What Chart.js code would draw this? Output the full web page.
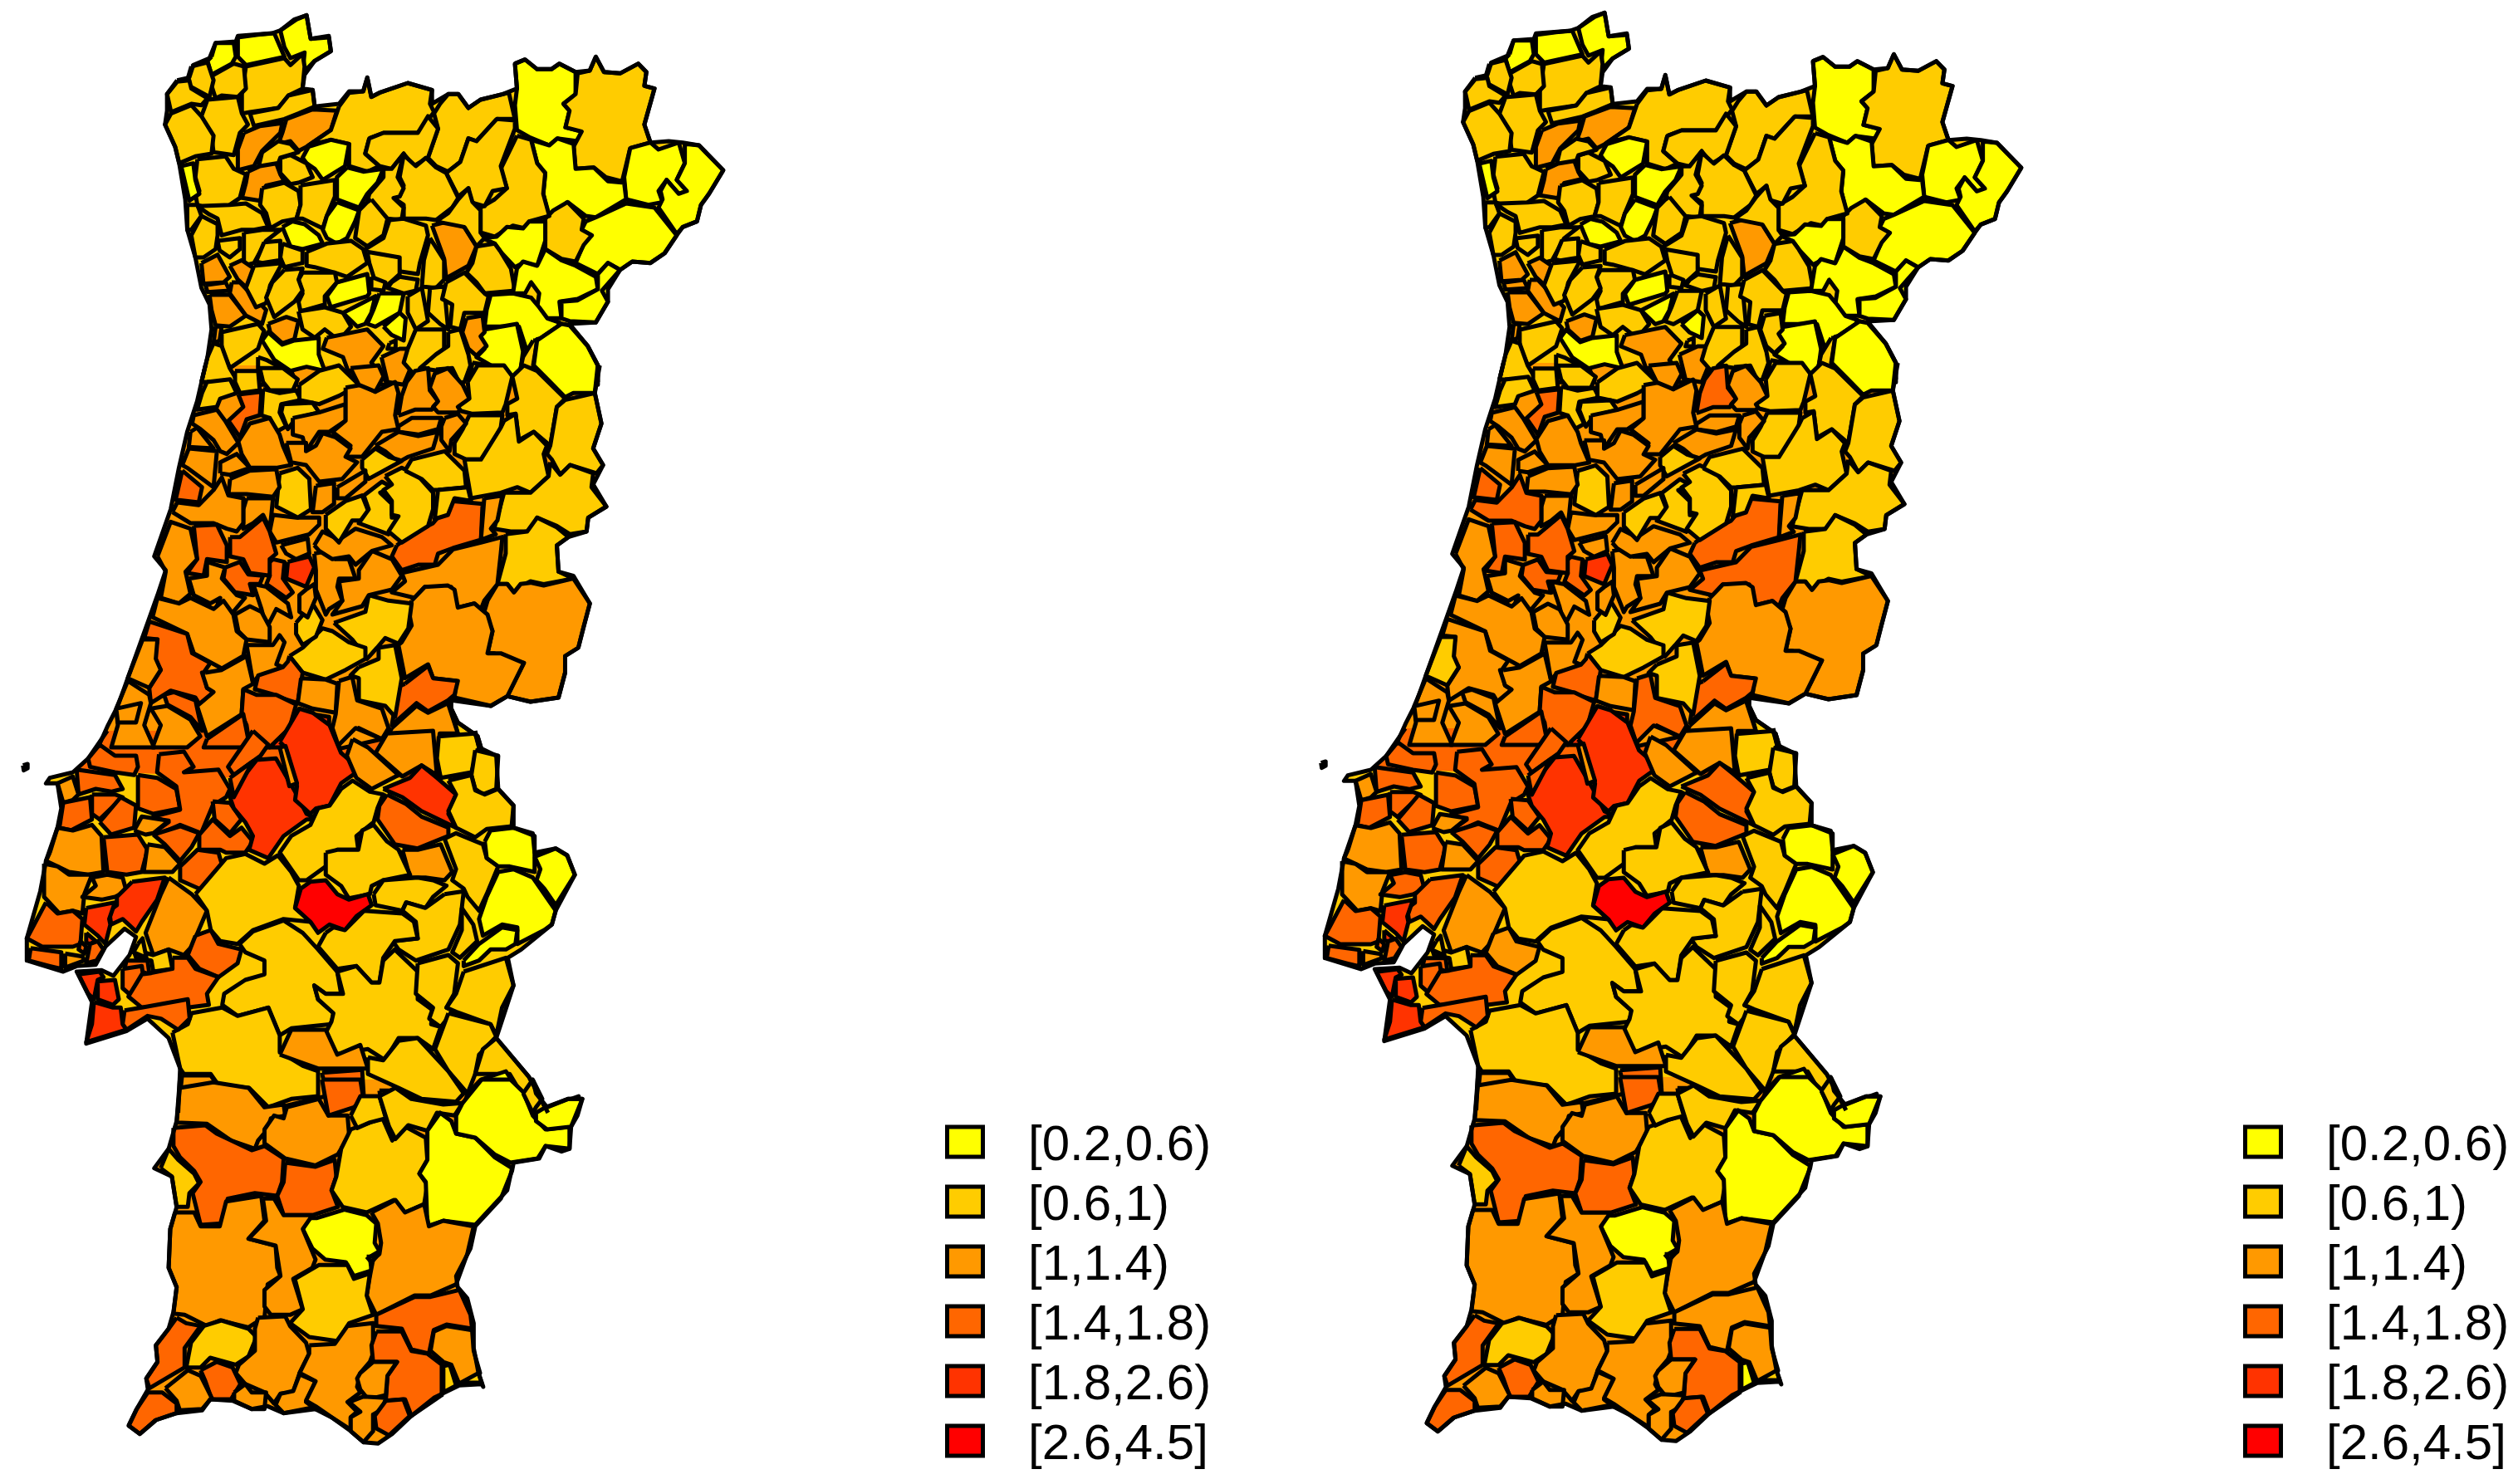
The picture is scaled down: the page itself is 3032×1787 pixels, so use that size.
<!DOCTYPE html>
<html>
<head>
<meta charset="utf-8">
<script src="https://cdn.jsdelivr.net/npm/chart.js@4"></script>
<style>
  html, body { margin: 0; background: #fff; }
  canvas { position: absolute; top: 0; }
  #map-left { left: 0; }
  #map-right { left: 1563px; }
</style>
</head>
<body>
<canvas id="map-left" width="1469" height="1787"></canvas>
<canvas id="map-right" width="1469" height="1787"></canvas>
<script>
const classLabels = ['[0.2,0.6)', '[0.6,1)', '[1,1.4)', '[1.4,1.8)', '[1.8,2.6)', '[2.6,4.5]'];
const classColors = ['#FFFF00', '#FFCC00', '#FF9900', '#FF6600', '#FF3300', '#FF0000'];

// outlines were traced sheet by sheet, each sheet has its own scale to map units
const northSheet = { x0: 150, y0: 0, sx: 2.053, sy: 3 };
const centreSheet = { x0: 130, y0: 440, sx: 2.516, sy: 3 };
const lowerSheet = { x0: 0, y0: 880, sx: 2.167, sy: 3 };
const southSheet = { x0: 130, y0: 1300, sx: 2.6, sy: 3 };

const northBase = [130,290,105,340,105,400,100,450,125,530,135,590,150,720,155,830,175,930,190,1040,210,1100,215,1190,205,1290,190,1380,1170,1380,1170,1320,1145,1250,1100,1170,1165,1165,1195,1090,1180,1050,1225,975,1255,945,1300,950,1335,915,1365,850,1380,820,1415,800,1425,740,1445,700,1480,615,1450,570,1420,525,1380,515,1345,510,1300,515,1285,450,1310,320,1285,310,1290,260,1270,230,1225,265,1185,260,1165,205,1150,255,1115,260,1075,230,1055,250,1020,250,990,215,965,230,970,320,935,340,880,360,850,390,825,340,800,340,760,375,760,325,700,300,630,335,610,350,600,280,590,330,555,330,530,375,470,385,465,325,440,320,445,270,470,220,510,185,505,130,460,140,450,55,420,70,385,110,365,120,280,130,275,150,225,155,210,210,170,235,160,280];
const centreBase = [295,0,270,130,240,240,215,370,190,520,140,690,175,740,150,830,120,930,60,1130,30,1230,0,1300,-30,1380,1130,1380,1120,1340,1060,1290,1040,1240,1040,1210,1160,1230,1210,1195,1280,1215,1365,1200,1385,1110,1385,1050,1425,1020,1440,950,1460,860,1410,760,1365,745,1360,650,1395,620,1450,600,1455,550,1510,510,1470,430,1500,360,1470,300,1495,210,1475,100,1490,0];
const lowerBase = [280,0,230,100,190,150,130,170,120,190,150,190,160,280,150,350,120,470,105,580,70,750,70,830,165,870,200,850,250,845,275,780,325,715,355,745,338,810,296,885,265,865,200,870,240,980,225,1130,330,1085,385,1040,440,1110,470,1220,465,1380,1430,1380,1380,1250,1295,1110,1340,920,1325,820,1360,790,1440,700,1450,650,1500,520,1480,450,1450,425,1395,440,1390,370,1340,350,1340,270,1300,210,1295,90,1250,60,1240,0];
const lowerPatch = [232,100,280,0,1140,0,1140,170,600,170,200,140];
const southBase = [225,0,215,150,190,250,145,320,200,350,215,460,195,540,190,680,215,750,205,840,190,900,150,960,155,1020,120,1080,125,1120,90,1190,65,1250,100,1280,150,1230,215,1205,295,1195,320,1155,390,1160,450,1190,500,1180,550,1205,640,1185,700,1220,760,1270,800,1310,845,1315,890,1280,950,1215,1020,1150,1100,1105,1170,1100,1175,1110,1160,1060,1145,970,1145,880,1125,790,1095,750,1090,710,1135,610,1150,530,1230,430,1265,330,1270,300,1350,285,1370,240,1420,260,1445,250,1450,170,1470,130,1485,70,1440,70,1375,100,1340,50,1330,0];

const northRegions = [
  [215,205,225,155,270,155,275,205,265,230,215,270,205,220],
  [280,135,330,125,370,120,395,205,300,235,280,205],
  [385,110,425,70,450,55,460,140,505,135,510,185,470,220,440,265,445,190,410,210,395,170],
  [300,240,395,210,410,235,440,195,445,240,440,320,405,345,380,390,310,405,290,410,290,340],
  [215,275,270,230,295,240,300,320,280,350,240,345,225,355,215,310],
  [165,240,205,225,220,290,210,350,160,310,155,290],
  [130,295,160,290,165,320,205,355,190,380,165,375,115,405,105,340],
  [205,360,280,350,290,410,305,450,285,480,270,560,220,550,215,495,190,420],
  [115,410,165,380,190,420,220,490,215,555,175,565,135,590,125,530,100,450],
  [310,410,380,390,405,345,465,325,470,385,430,410,395,430,320,455],
  [295,480,335,455,390,445,385,480,340,545,320,600,280,615,280,540],
  [400,430,465,395,525,400,510,470,450,530,430,545,410,510,380,520,390,480],
  [530,385,555,335,590,330,600,280,610,350,630,335,700,300,760,325,755,375,765,405,725,480,640,480,605,500,595,555,630,600,600,620,555,600,555,520,510,505,455,525,510,470],
  [765,410,780,375,800,340,825,340,850,390,880,360,950,335,965,430,920,430,870,510,850,500,830,585,800,620,770,600,750,570,775,465],
  [605,500,640,480,725,480,750,420,775,465,750,570,715,600,690,555,660,610,630,600,595,555],
  [965,230,990,215,1020,250,1055,250,1075,230,1115,260,1115,340,1085,375,1100,400,1090,460,1130,475,1120,510,1070,500,1050,525,1000,495,970,470,965,380,970,320],
  [1120,265,1150,255,1165,205,1185,260,1225,265,1270,230,1290,260,1285,310,1310,320,1285,450,1300,515,1250,535,1230,655,1190,640,1160,605,1115,610,1110,530,1130,475,1090,460,1100,400,1085,375,1115,340],
  [1250,535,1300,515,1320,540,1370,515,1385,590,1365,650,1390,690,1370,700,1340,650,1320,690,1330,730,1295,740,1240,720,1235,640],
  [1385,520,1420,525,1450,570,1480,615,1445,700,1425,740,1415,800,1380,820,1365,845,1320,750,1330,720,1325,690,1340,650,1370,700,1390,690,1365,650,1385,590],
  [1005,505,1050,525,1070,500,1110,520,1115,610,1160,605,1195,655,1235,660,1240,720,1165,785,1140,780,1095,730,1050,790,1035,700,1040,625,1020,590],
  [1140,800,1165,785,1240,735,1310,750,1365,850,1335,915,1300,950,1255,945,1225,975,1195,950,1170,990,1115,950,1135,880,1155,850,1130,830],
  [1095,730,1135,790,1130,830,1155,850,1135,885,1115,945,1080,935,1040,900,1040,790,1060,760],
  [970,490,1005,505,1020,590,1040,625,1035,700,1050,780,1000,800,990,825,960,815,915,855,880,840,880,750,915,720,945,680,930,610],
  [920,430,965,435,965,465,930,600,945,680,910,690,890,745,855,730,850,680,825,710,795,625,830,585,850,500,870,510],
  [680,710,690,670,680,640,690,560,720,600,745,570,770,605,795,625,825,715,810,750,770,795,745,790,690,790,690,740,665,715],
  [640,610,660,610,690,555,675,640,690,680,680,710,665,715,690,750,685,795,650,790,600,730,605,700,640,640],
  [550,605,590,620,640,610,625,660,600,700,580,750,525,720,525,640],
  [455,530,510,505,555,520,545,600,490,650,470,610,450,590,440,570],
  [385,570,410,560,450,590,465,640,430,660,410,665,385,625],
  [340,550,380,510,410,520,430,550,385,570,380,590,330,610],
  [305,620,335,600,375,590,385,630,395,655,350,670,335,725,290,715,300,660],
  [180,575,250,565,270,610,300,630,285,715,260,740,240,770,180,740,175,700,185,690,175,640],
  [140,600,170,590,175,650,185,700,160,725],
  [340,680,395,660,430,690,435,740,425,790,390,800,360,825,350,770,335,740],
  [435,670,520,650,520,710,500,780,490,825,440,790,425,790,435,740],
  [525,730,580,760,570,800,550,860,525,880,500,860,490,830,500,780],
  [610,720,650,790,640,850,600,890,570,860,580,760,600,730],
  [655,795,690,790,745,815,750,850,730,950,725,990,680,980,675,930,605,940,595,900,640,860],
  [760,815,800,800,840,820,870,890,850,960,795,1005,790,935],
  [755,860,790,940,790,1010,770,1040,735,1035,740,940],
  [770,800,800,770,825,720,850,680,860,730,880,760,880,840,890,860,870,890,840,820],
  [885,860,920,855,945,820,985,825,1000,800,1040,800,1040,870,1020,960,985,950,965,965,930,910,915,880],
  [870,890,915,880,930,910,955,970,965,1050,890,1060,870,1020,845,985,860,950],
  [1040,900,1080,940,1115,960,1165,1000,1170,1045,1120,1080,1075,1090,1080,1150,1045,1150,1020,1110,1025,1060,1005,1020,990,1060,960,1060,970,970,985,945,1020,960],
  [1170,990,1195,950,1225,975,1195,1045,1195,1090,1165,1165,1100,1160,1080,1150,1080,1090,1120,1085,1170,1045],
  [905,1065,960,1060,1005,1075,1025,1110,1045,1150,1075,1165,1065,1210,1020,1225,995,1270,975,1180,890,1180,895,1120],
  [890,1190,970,1170,985,1270,975,1380,900,1315,870,1290,890,1260,880,1210],
  [1020,1230,1080,1170,1100,1175,1145,1250,1170,1320,1170,1390,1020,1390,1010,1320],
  [1010,1230,1020,1230,1010,1320,1030,1390,970,1390,985,1290],
  [155,740,180,740,190,780,165,830,155,830],
  [190,780,230,810,230,850,225,900,195,930,175,930,165,850],
  [180,745,260,740,300,735,340,770,355,820,320,830,290,830,240,850,230,790,210,775],
  [230,870,285,860,285,900,260,930,235,905],
  [295,840,340,830,385,830,350,870,320,950,295,960],
  [345,875,385,870,385,940,340,950,325,945],
  [390,820,415,800,445,810,480,850,490,880,440,900,410,890],
  [390,880,440,905,440,950,395,965,385,930],
  [450,910,500,880,560,870,590,900,600,950,550,1000,520,985,470,965,450,960],
  [600,910,680,930,680,990,650,1030,620,1020,605,950],
  [440,985,520,985,525,1020,495,1070,495,1100,435,1125,430,1090,440,1060,430,1010],
  [525,1020,600,990,605,1060,600,1070,510,1110,500,1070],
  [190,950,230,920,260,1000,245,1020,195,1025],
  [260,960,290,940,325,975,310,1050,280,1010],
  [200,1030,250,1020,260,1050,205,1055],
  [210,1065,260,1065,300,1140,260,1180,225,1175,215,1120],
  [265,1020,285,1020,350,1120,340,1170,300,1140,260,1060],
  [320,960,390,950,360,1030,350,1095,325,1110,300,1040],
  [395,975,440,970,430,1010,440,1050,420,1090,370,1145,350,1075,365,1020],
  [430,1125,495,1110,540,1130,560,1180,530,1230,495,1190,470,1220,440,1190],
  [355,1170,400,1145,430,1160,420,1225,390,1240,360,1200],
  [340,1230,355,1200,390,1245,420,1230,480,1220,480,1280,495,1340,450,1325,410,1340,370,1300],
  [240,1200,330,1170,345,1195,330,1260,290,1300,260,1330,240,1260],
  [225,1180,240,1180,235,1230,220,1240],
  [190,1380,205,1290,220,1240,240,1250,260,1330,280,1380],
  [330,1290,350,1300,415,1350,425,1390,330,1390],
  [500,1220,600,1190,640,1250,610,1310,640,1360,650,1390,590,1390,560,1370,540,1290,490,1260],
  [655,1240,670,1230,670,1260,650,1260],
  [635,1290,680,1260,715,1260,710,1320,690,1390,650,1380],
  [540,1130,620,1070,610,1130,595,1170,575,1180],
  [630,1060,690,1060,680,1130,620,1180,600,1170,615,1120],
  [640,1180,680,1130,695,1150,690,1230,660,1210],
  [700,1070,735,1040,750,1160,720,1190,700,1130],
  [755,1040,790,1035,800,1190,780,1170,750,1130],
  [795,1020,840,985,890,1060,900,1070,890,1130,840,1130,830,1190,805,1180,810,1100,785,1080],
  [845,1150,885,1140,890,1200,880,1215,895,1250,870,1285,850,1260,835,1200],
  [720,1190,790,1190,790,1270,745,1320,720,1360,690,1310,700,1260],
  [800,1200,830,1190,850,1280,855,1320,840,1380,810,1390,780,1340,730,1330,770,1280,800,1250],
  [710,1390,745,1330,755,1390],
  [770,1335,810,1330,830,1390,765,1390],
  [860,1310,900,1320,970,1380,850,1390],
  [610,1000,645,1020,640,1050,610,1045],
  [680,1000,725,1010,720,1050,690,1060,650,1040,660,1020]
];
const northLeft = [0,0,0,1,1,1,1,1,1,1, 2,2,1,1,1,0,1,0,0,0, 0,1,1,1,1,1,0,0,1,1, 2,1,0,1,1,0,1,1,2,1, 1,0,1,0,0,0,0,0,1,1, 1,1,1,1,1,0,1,1,1,1, 0,2,2,2,2,2,1,1,1,2, 0,1,2,1,1,2,1,2,0,0, 0,1,1,1,2,1,1,2,2,1, 1,1];
const northRight = [0,0,0,1,1,1,1,1,1,1, 2,2,1,1,1,0,1,0,0,0, 0,1,1,1,1,1,0,0,1,1, 2,1,0,1,1,0,1,1,2,1, 1,0,1,0,0,0,0,0,1,1, 1,1,1,1,1,0,1,1,1,1, 0,2,2,2,2,2,1,1,1,2, 0,1,2,1,1,2,1,2,0,1, 0,1,1,1,1,1,1,3,2,1, 1,1];

const centreRegions = [
  [300,60,370,50,390,100,340,120,330,150,270,160,285,100],
  [395,105,465,95,460,180,420,195,400,260,365,200,410,150],
  [260,180,330,160,355,200,395,280,360,320,340,310,320,270,280,230,255,210],
  [385,20,455,20,460,90,400,100,385,60],
  [470,85,520,100,570,90,585,125,525,140,520,170,540,220,510,240,490,190,465,180],
  [460,10,530,10,575,50,560,90,490,90,470,60],
  [580,70,640,20,700,0,760,70,700,110,640,140,580,125],
  [530,140,620,135,640,170,570,190,545,230,525,170],
  [560,190,640,170,720,140,720,200,670,240,640,240,600,310,590,260,560,250],
  [720,80,770,70,810,95,870,60,880,100,870,180,880,230,830,240,770,330,720,330,735,290,680,240,720,200],
  [880,180,890,110,905,60,930,20,970,10,975,90,1000,130,980,160,930,160,885,180],
  [735,10,820,0,835,40,810,95,760,70],
  [975,80,990,30,1030,10,1075,70,1095,120,1060,170,1000,170,985,150,1000,130],
  [1090,60,1120,0,1200,0,1225,40,1205,140,1195,170,1105,175,1070,165,1060,150,1095,120],
  [1225,40,1260,0,1300,20,1385,120,1360,150,1340,290,1290,240,1245,270,1235,175,1210,180,1210,140,1240,120],
  [1300,-90,1374,-150,1398,-145,1453,-70,1484,0,1475,100,1410,100,1385,115,1340,60,1290,0],
  [1385,125,1475,100,1495,210,1470,300,1500,360,1480,390,1400,360,1370,395,1345,340,1330,320,1340,290,1360,150],
  [1095,180,1195,180,1190,225,1160,290,1130,340,1085,340,1050,320,1050,280,1075,230],
  [1200,200,1235,175,1245,275,1290,240,1330,290,1320,320,1335,400,1280,460,1240,440,1190,460,1100,480,1080,340,1130,340,1190,225],
  [1340,350,1370,395,1400,360,1470,390,1465,440,1510,510,1455,550,1450,600,1400,610,1360,580,1300,550,1280,600,1220,600,1170,590,1200,460,1280,460,1335,400],
  [1205,610,1270,600,1300,550,1360,585,1395,620,1360,650,1365,745,1410,770,1320,790,1280,780,1250,800,1230,820,1210,790,1180,790,1205,680],
  [1150,850,1180,790,1210,790,1230,820,1250,790,1280,785,1320,795,1410,770,1460,860,1440,950,1425,1020,1385,1050,1385,1110,1365,1200,1280,1215,1210,1195,1260,1075,1210,1070,1170,1040,1150,1040,1165,960,1140,890],
  [875,650,920,610,985,570,1040,490,1135,500,1130,630,1045,660,1000,680,990,720,940,720,890,740,860,690],
  [1140,480,1195,470,1180,560,1160,590,1175,610,1130,630],
  [890,750,1000,720,1045,665,1130,640,1195,620,1190,680,1180,790,1140,850,1130,880,1110,860,1060,875,1040,800,960,800,930,840,860,820,900,780],
  [920,850,960,800,1030,795,1050,810,1060,875,1110,860,1130,880,1150,900,1165,960,1150,1040,1190,1040,1260,1075,1210,1195,1160,1230,1050,1200,1055,1140,985,1130,970,1080,900,1130,880,1010,890,1000,920,940,910,880],
  [900,1150,970,1085,985,1130,1060,1140,1050,1190,1030,1210,970,1250,935,1220,860,1300,880,1160],
  [1040,1240,1060,1290,1120,1340,1130,1380,1000,1380,1010,1330,1060,1330],
  [860,1310,935,1230,970,1255,1030,1220,1060,1330,1005,1330,1000,1380,830,1380],
  [685,930,780,890,790,830,850,850,920,860,910,950,880,1005,840,985,815,1020,785,1060,740,990],
  [550,1050,590,1020,650,950,680,960,730,1000,780,1020,780,1060,720,1100,660,1135,590,1110],
  [760,1090,820,1060,820,1020,870,1010,890,1130,870,1270,840,1230,760,1210,760,1130,735,1120],
  [570,930,620,860,650,920,630,980,590,1010,570,970],
  [700,780,760,770,760,740,800,670,860,700,890,760,860,810,790,830,770,870,680,900,710,850],
  [625,680,670,670,690,700,730,700,750,770,700,770,695,800,710,850,670,880,660,900,630,810,630,740],
  [625,650,650,600,700,630,750,590,830,620,860,650,800,670,750,720,730,690,680,700,640,670],
  [600,810,625,790,630,840,605,910,580,890,580,830],
  [545,710,610,690,625,730,600,800,540,770],
  [525,650,605,625,610,680,570,700,540,680],
  [500,700,535,710,530,770,560,820,540,840,480,790,490,760,480,720],
  [500,540,570,550,640,550,640,575,610,610,510,640,490,600],
  [660,540,720,490,770,470,790,530,780,560,740,560,700,640,660,590],
  [775,470,830,420,860,440,825,460,860,500,860,550,880,550,850,610,760,570,790,520],
  [840,400,890,370,940,400,985,460,985,520,970,580,890,640,850,600,880,545,860,540,860,490,835,450,860,430],
  [900,380,920,340,1020,310,1080,380,1085,440,1000,450,985,450,950,410],
  [1000,450,1090,440,1100,490,1050,480,1030,540,990,555],
  [880,220,920,190,1010,190,1000,230,940,250,880,240],
  [810,290,880,240,940,255,1000,240,985,300,910,330,880,350,840,310],
  [1020,190,1060,175,1085,210,1040,270,1035,310,1010,270,1010,220],
  [770,340,810,300,850,330,890,345,790,410,770,370],
  [695,440,780,380,780,420,720,480,695,480],
  [630,435,685,425,685,500,650,530,620,530],
  [520,390,575,370,610,410,615,520,575,550,510,510],
  [540,280,600,280,600,310,630,290,650,245,690,260,735,300,720,330,755,350,710,410,640,420,600,360,555,350],
  [395,275,430,210,490,190,520,250,530,290,555,360,510,370,430,370,405,320],
  [340,390,340,350,390,320,430,370,370,395],
  [370,410,430,380,510,375,520,440,500,475,420,465,365,465],
  [420,480,500,480,495,540,490,590,470,540,440,570,410,590,410,520],
  [245,300,330,310,320,440,240,370,225,360],
  [250,240,270,225,320,300,245,295],
  [225,380,285,440,275,495,205,485],
  [195,530,210,495,275,505,320,450,345,405,365,470,410,480,410,570,390,600,360,590,320,570,250,570],
  [260,580,330,575,360,650,360,710,300,700,290,760,240,750,270,700],
  [150,690,190,565,250,590,270,700,235,745,250,825,215,860,160,840,175,745],
  [370,620,400,620,470,550,490,600,510,680,490,700,490,760,430,750,410,700,370,690],
  [245,770,300,760,300,710,355,730,345,770,390,830,415,840,380,890,325,885,340,840,310,860,260,830],
  [355,730,400,710,425,755,470,760,460,790,430,790,440,830,385,820,350,770],
  [440,790,480,800,545,860,555,910,510,880,480,950,465,880],
  [385,900,430,870,465,890,490,945,490,1000,420,990,395,960],
  [150,840,215,860,250,840,320,880,350,850,380,900,390,960,420,990,410,1050,345,1095,260,1040,240,970,135,910],
  [125,925,240,970,255,1040,310,1075,290,1110,300,1165,320,1180,280,1230,265,1200,190,1175,130,1220,125,1165,160,1100,140,1060,150,990,110,985],
  [105,990,150,990,145,1060,160,1100,125,1165,60,1130],
  [295,1110,345,1100,420,1050,440,1150,410,1170,405,1260,300,1340,270,1230,320,1180,300,1165,285,1110],
  [420,1010,500,1010,520,975,535,1000,510,1080,530,1090,450,1130,440,1150],
  [550,1050,590,1110,575,1220,520,1200,505,1190,445,1170,455,1120,530,1090,545,1070],
  [585,1130,660,1135,695,1150,690,1255,620,1240,575,1220],
  [700,1140,740,1125,755,1210,830,1240,850,1310,830,1350,760,1310,700,1380,680,1310,690,1260],
  [410,1170,450,1190,510,1190,570,1225,550,1310,490,1380,430,1380,420,1300,405,1260],
  [580,1240,620,1255,610,1340,680,1380,490,1380,550,1310],
  [620,1260,670,1270,670,1340,640,1370,610,1340],
  [130,1240,180,1230,250,1280,280,1340,240,1380,135,1380,160,1300],
  [170,1190,200,1180,265,1210,285,1320,250,1270,180,1225],
  [300,1350,410,1260,430,1380,290,1380],
  [60,1140,125,1190,130,1220,110,1300,140,1380,10,1380,30,1300,25,1240],
  [25,1240,100,1220,85,1290,30,1290],
  [700,1370,750,1310,830,1350,700,1385]
];
const centreLeft = [1,3,2,1,1,1,1,1,2,2, 2,2,2,1,1,0,1,1,1,1, 1,2,3,2,2,2,3,1,2,1, 1,1,1,2,2,2,2,4,2,3, 2,1,1,1,1,1,2,2,2,1, 2,2,1,2,2,2,2,2,2,2, 3,2,3,2,3,2,3,2,2,2, 3,2,2,2,3,2,2,3,4,4, 2,3,3,2,2,2];
const centreRight = [1,3,2,1,1,1,1,1,2,2, 3,2,2,1,1,0,1,1,1,1, 1,2,3,2,3,2,3,1,2,1, 1,1,1,2,2,2,2,4,2,3, 2,1,1,1,1,1,2,2,2,1, 2,2,1,2,2,2,2,2,2,2, 3,3,3,2,3,2,3,2,2,2, 2,1,2,2,3,2,3,3,4,4, 2,2,3,2,2,2];

const lowerRegions = [
  [230,100,260,50,300,90,355,90,360,130,350,160,300,150,235,130],
  [200,140,300,160,320,210,290,220,250,210,205,230],
  [150,190,190,165,205,230,190,250,165,260],
  [165,260,235,240,240,320,185,360,155,350],
  [240,230,300,230,320,240,290,280,260,320,240,300],
  [260,330,315,240,355,270,350,350,290,375],
  [360,160,410,170,460,210,470,280,400,300,360,280],
  [415,85,480,75,505,130,480,150,570,140,600,210,590,240,555,270,525,370,470,340,420,370,400,370,440,330,400,310,470,285,460,200,410,150],
  [350,360,370,310,440,325,400,370,380,375],
  [130,440,150,350,190,360,240,340,265,380,270,510,230,520,180,510,150,490,120,470],
  [270,385,360,375,385,430,370,510,330,520,280,510],
  [400,375,470,345,520,370,500,420,470,470,430,410],
  [385,410,430,420,470,480,450,510,375,510],
  [520,375,555,320,600,380,630,350,660,400,640,440,590,440,575,430,520,430],
  [555,255,600,260,630,320,600,370,560,320],
  [470,490,515,430,570,440,585,510,535,580,470,540],
  [115,480,150,490,180,520,240,520,220,590,215,660,190,650,155,660,115,600],
  [240,530,280,520,320,530,330,580,300,600,265,610,215,600,250,560],
  [345,545,430,530,410,610,370,690,355,725,320,680,290,700,285,650,305,630,305,600],
  [225,640,300,620,285,680,288,700,275,770,255,740,220,700],
  [120,620,150,660,190,650,215,680,210,770,190,780,110,780,70,750],
  [80,785,160,800,160,860,130,850,75,830],
  [170,805,215,815,220,830,170,855],
  [225,730,250,760,235,770,225,765],
  [235,770,255,760,270,790,252,830,225,840],
  [210,760,225,780,220,805,205,790],
  [440,530,500,590,540,650,500,780,480,810,440,790,400,810,380,730,420,590],
  [510,590,590,460,640,445,690,480,725,450,760,510,780,560,770,640,810,690,740,680,660,720,620,770,575,760,550,720,540,650],
  [610,210,670,105,720,100,770,220,800,300,830,320,800,320,740,380,700,460,650,430,660,380,640,330,610,280,600,240],
  [730,40,781,-80,816,-65,860,-20,890,80,940,140,890,190,860,270,825,280,810,300,770,250,775,200,745,60],
  [730,60,745,55,775,190,755,200],
  [660,0,700,50,680,90,640,130,610,160,595,130],
  [600,170,660,110,610,240],
  [890,210,920,180,965,220,1000,230,985,280,975,330,930,380,935,430,880,430,850,490,800,540,780,540,745,470,730,440,760,380,810,340,830,280,860,270],
  [920,30,960,60,1040,160,970,210,930,170,905,90],
  [980,80,1010,10,1130,0,1140,160,1100,125,1050,165],
  [1000,210,1070,170,1100,125,1140,170,1190,230,1170,300,1190,350,1100,290,1050,240],
  [1010,230,1060,265,1100,310,1170,350,1170,380,1090,425,1030,410,1000,350,985,320,990,270],
  [1050,430,1090,430,1150,410,1180,510,1160,540,1110,530,1070,530],
  [1160,390,1190,370,1260,410,1270,460,1300,490,1270,590,1250,650,1220,600,1210,570,1180,540,1190,500],
  [1145,20,1240,10,1250,60,1230,150,1150,170,1140,100],
  [1240,70,1300,90,1295,210,1260,230,1240,210,1230,160],
  [1170,180,1230,160,1240,215,1265,230,1300,210,1340,270,1335,345,1270,355,1240,385,1190,350,1170,290,1190,230],
  [1265,400,1280,360,1340,350,1395,380,1395,510,1330,490,1300,490,1270,460],
  [1395,455,1450,425,1480,450,1500,520,1450,630,1420,570,1400,540,1410,500],
  [1300,510,1340,500,1390,530,1450,650,1440,700,1420,720,1350,770,1350,710,1310,700,1260,740,1250,680,1270,600],
  [1210,830,1250,770,1310,710,1350,720,1345,770,1320,790,1280,790,1250,830,1210,850],
  [850,440,880,430,935,430,945,360,975,340,1010,400,1040,430,1070,520,1000,540,970,560,965,590,910,605,890,560,850,520],
  [785,570,810,545,850,540,880,590,910,610,960,590,970,630,930,670,900,720,860,700,830,730,810,690,770,640],
  [975,590,1000,540,1090,530,1130,540,1165,560,1130,600,1110,640,1060,620,1050,650,980,630],
  [1160,590,1210,580,1200,700,1170,790,1085,830,1040,790,1025,760,1090,750,1085,690,1050,650,1060,620,1110,640],
  [850,730,870,710,900,720,950,650,1050,660,1080,690,1090,750,1030,760,1000,820,990,910,970,910,930,850,880,860,830,780],
  [1205,640,1235,700,1245,760,1200,820,1180,800,1205,720],
  [625,770,660,725,740,685,790,730,830,790,880,870,890,950,850,950,820,920,830,970,870,1020,865,1060,760,1075,730,1100,700,1000,620,1030,580,990,585,950,640,900,690,880,690,830,640,800],
  [1000,830,1030,790,1090,870,1090,970,1130,1010,1125,1060,1150,1070,1130,1150,1090,1110,1040,1110,1005,1190,960,1150,870,1170,850,1090,865,1050,870,1020,830,970,820,920,850,950,895,950,880,870,930,850,970,910,990,910],
  [1090,840,1170,810,1195,840,1185,950,1165,1000,1185,1010,1150,1070,1120,1040,1130,1000,1085,950],
  [1210,870,1320,820,1340,920,1310,1000,1295,1100,1280,1060,1190,1015,1165,1000,1190,950],
  [1170,1020,1280,1060,1295,1105,1250,1170,1240,1240,1220,1310,1170,1230,1135,1150],
  [1295,1110,1380,1250,1430,1380,1390,1380,1330,1240,1240,1240,1260,1150],
  [1205,1380,1220,1310,1255,1260,1320,1230,1390,1380],
  [1430,1360,1510,1320,1500,1380],
  [450,1090,490,1060,500,1020,580,1000,620,1030,700,1000,730,1100,730,1160,790,1210,830,1230,830,1320,760,1330,700,1360,650,1290,570,1280,550,1240,480,1240,470,1220],
  [730,1170,760,1080,850,1080,880,1170,940,1135,960,1220,830,1220,790,1200],
  [840,1235,945,1225,950,1340,860,1380,850,1300],
  [960,1180,1000,1190,1040,1120,1090,1110,1130,1170,1170,1230,1210,1310,1190,1340,1100,1330,1040,1290,960,1240],
  [990,1300,1040,1300,1100,1340,1190,1350,1200,1380,1000,1380],
  [475,1245,550,1245,570,1285,640,1290,700,1370,850,1320,860,1380,465,1380],
  [510,740,550,720,570,770,630,790,620,840,570,890,520,860,490,810],
  [348,790,400,810,440,790,450,860,400,870,395,830,355,820],
  [360,770,372,750,382,820,348,800],
  [330,830,385,830,390,880,350,860,325,860],
  [320,860,370,850,375,900,345,960,320,930],
  [450,820,490,820,510,860,570,890,540,950,545,990,490,1000,470,990,370,1000,335,960,370,880,395,875,450,860],
  [325,1010,370,1000,490,970,495,1040,465,1080,420,1040,385,1030,330,1080,320,1060],
  [205,880,260,870,270,890,255,900,245,970,230,950],
  [255,905,300,900,310,970,295,990,255,970],
  [245,980,295,1000,315,1000,320,1060,330,1080,225,1125,240,1060],
  [60,125,72,120,72,135,62,143]
];
const lowerLeft = [3,3,2,3,3,3,3,3,2,2, 3,3,2,3,3,3,2,2,4,4, 3,3,2,4,3,3,2,1,4,4, 2,3,3,1,2,2,4,3,2,1, 1,1,1,0,0,0,0,1,5,1, 1,1,1,1,1,1,1,1,1,0, 0,1,2,3,1,1,2,3,1,1, 3,3,3,3,4,4,4,3];
const lowerRight = [3,3,2,3,3,3,3,3,2,2, 3,3,2,3,3,3,2,3,3,4, 3,3,2,4,3,3,2,1,4,4, 2,3,3,1,2,2,3,3,2,1, 1,1,1,0,0,0,0,1,5,1, 1,1,1,1,1,1,1,1,1,0, 0,1,2,3,1,1,2,2,1,1, 3,3,3,3,4,4,4,3];

const southRegions = [
  [225,30,330,10,440,30,490,100,550,90,555,130,510,140,500,180,470,220,460,250,385,220,310,160,215,155],
  [560,100,660,70,690,130,750,130,755,200,720,270,650,310,555,285,490,230,490,180,520,130,550,140],
  [670,0,790,0,800,70,770,100,690,130],
  [205,175,305,165,340,195,450,255,490,240,550,285,545,370,530,420,460,410,375,430,355,520,290,525,265,410,290,370,270,330,225,280,205,240],
  [165,320,190,250,220,290,270,340,285,375,255,410,250,460,215,460,200,350],
  [555,300,650,315,710,290,715,350,700,400,720,460,640,490,550,490,530,420,550,370],
  [730,250,760,180,820,155,860,140,890,220,930,170,995,210,1000,290,975,340,1000,380,990,450,930,480,895,435,810,480,735,460,700,400,715,350],
  [760,130,790,60,850,60,870,140,820,155,780,175],
  [850,60,900,30,950,70,1050,90,1110,85,1085,130,1030,120,1000,185,940,165,900,215,880,170],
  [1000,185,1040,120,1075,150,1090,195,1150,210,1210,280,1265,320,1250,400,1150,525,1050,510,1000,530,995,370,975,340,1000,290],
  [1090,130,1110,85,1170,0,1260,0,1300,45,1330,130,1370,180,1445,170,1445,250,1370,240,1345,285,1260,300,1210,270,1150,210,1090,195],
  [1340,120,1370,100,1440,70,1485,70,1450,170,1375,180,1340,150],
  [1300,50,1330,0,1360,70,1340,100,1330,120],
  [625,500,655,500,740,470,810,490,840,520,835,590,850,620,820,640,825,690,770,710,745,660,680,650,640,610,610,540],
  [825,480,900,435,930,480,990,450,1005,530,1050,510,1145,530,1125,630,1090,740,1010,780,960,780,840,850,810,780,820,710,830,650,850,630,855,590,845,520],
  [210,480,270,480,290,530,350,530,370,440,480,420,490,510,440,575,525,600,530,680,540,710,500,740,490,860,460,880,440,895,350,870,310,890,240,850,205,845,215,750,190,680,195,540],
  [485,430,520,430,550,490,640,490,610,540,650,650,640,680,580,720,610,830,570,850,510,850,490,820,490,760,540,710,525,600,440,575,495,510],
  [585,720,660,670,750,670,770,720,820,700,810,780,830,850,755,880,720,945,630,930,570,880,610,830],
  [215,860,245,880,290,890,240,970,240,1040,130,1115,120,1080,155,1020,150,960,190,900],
  [260,950,300,890,355,870,440,900,465,930,440,1000,400,1030,320,1005,290,1040,245,1040],
  [290,1050,340,1020,390,1040,415,1100,385,1155,325,1155,305,1090],
  [180,1115,250,1050,290,1070,325,1150,295,1190,225,1195,215,1160],
  [90,1190,125,1130,170,1130,215,1170,215,1205,150,1230,100,1280,65,1250],
  [470,860,555,855,570,890,620,950,630,990,600,1060,580,1130,540,1135,520,1170,490,1130,430,1100,400,1060,410,1030,460,980,460,900],
  [395,1130,430,1100,450,1130,495,1130,490,1190,450,1190,395,1160],
  [540,1135,580,1125,600,1065,650,1090,620,1165,650,1190,550,1205,525,1175],
  [630,960,710,955,750,890,830,880,830,990,820,1020,790,1060,780,1110,790,1130,750,1165,780,1200,760,1220,760,1265,700,1220,650,1180,620,1160,650,1090,600,1060,630,990],
  [840,910,920,910,950,980,1000,990,1045,1030,1045,1140,950,1215,930,1155,870,1160,875,1070,905,1020,830,1020,825,960],
  [840,850,960,785,1010,785,1100,760,1135,850,1140,900,1060,885,1020,905,1005,990,950,975,920,900,840,890],
  [1020,910,1060,890,1140,905,1145,980,1165,1060,1100,1100,1075,1030,1050,1020,1010,980],
  [1050,1035,1070,1030,1090,1105,1050,1130],
  [1105,1095,1160,1060,1170,1095],
  [790,1060,830,1020,905,1020,875,1070,870,1140,815,1155,790,1120,780,1080],
  [755,1165,800,1145,870,1150,860,1190,830,1210,830,1270,800,1310,760,1270,760,1220,790,1200],
  [835,1215,870,1160,925,1155,945,1215,880,1285,840,1260],
  [810,640,840,640,825,660]
];
const southLeft = [2,2,3,3,1,3,1,1,1,0, 0,0,1,0,2,2,2,1,3,1, 3,2,3,2,2,2,2,3,3,2, 1,1,2,2,3,0];
const southRight = [2,2,3,3,1,3,1,1,1,0, 0,0,1,0,2,2,2,1,3,1, 3,2,3,2,2,2,2,3,2,2, 0,1,2,2,3,0];

function toPoint(path, i, sheet) {
  return { x: sheet.x0 + path[i] / sheet.sx, y: sheet.y0 + path[i + 1] / sheet.sy };
}

// one closed outline in map units, repeats the first vertex
function toPoints(path, sheet) {
  const points = [];
  for (let i = 0; i < path.length; i += 2) {
    points.push(toPoint(path, i, sheet));
  }
  points.push(points[0]);
  return points;
}

function outlineDataset(path, sheet, classIndex) {
  return {
    data: toPoints(path, sheet),
    showLine: true,
    fill: 'shape',
    clip: false,
    backgroundColor: classColors[classIndex],
    borderColor: '#000000',
    borderWidth: 5,
    borderJoinStyle: 'round',
    pointRadius: 0,
    tension: 0
  };
}

// sheet base: colour only, its straight cuts must not show
function baseFill(path, sheet, classIndex) {
  return Object.assign(outlineDataset(path, sheet, classIndex), { borderWidth: 0 });
}

// coast and border of a sheet, a gap wherever the base was cut along the sheet edge
function baseLine(path, sheet) {
  const points = [];
  const n = path.length;
  for (let i = 0; i <= n; i += 2) {
    const a = i % n;
    const b = (i + 2) % n;
    points.push(toPoint(path, a, sheet));
    if (i < n && path[a + 1] === path[b + 1] && (path[a + 1] === 0 || path[a + 1] === 1380)) {
      points.push({ x: NaN, y: NaN });
    }
  }
  return {
    data: points,
    showLine: true,
    fill: false,
    clip: false,
    borderColor: '#000000',
    borderWidth: 5,
    borderJoinStyle: 'round',
    pointRadius: 0,
    tension: 0
  };
}

// swatches and labels sit in a fixed column like the R legend
const classLegend = {
  id: 'classLegend',
  afterDraw(chart) {
    const ctx = chart.ctx;
    ctx.save();
    ctx.font = '60px "Liberation Sans"';
    ctx.textBaseline = 'alphabetic';
    classLabels.forEach((label, i) => {
      const top = 1357 + i * 72;
      ctx.fillStyle = classColors[i];
      ctx.strokeStyle = '#000000';
      ctx.lineWidth = 5;
      ctx.fillRect(1140.5, top, 43, 36);
      ctx.strokeRect(1140.5, top, 43, 36);
      ctx.fillStyle = '#000000';
      ctx.fillText(label, 1238, 1397 + i * 72);
    });
    ctx.restore();
  }
};

function drawPanel(canvasId, north, centre, lower, south, yShift) {
  const datasets = [
    baseFill(northBase, northSheet, 1),
    baseFill(centreBase, centreSheet, 2),
    baseFill(lowerBase, lowerSheet, 1),
    baseFill(lowerPatch, lowerSheet, 3),
    baseFill(southBase, southSheet, 2)
  ];
  northRegions.forEach((path, i) => datasets.push(outlineDataset(path, northSheet, north[i])));
  centreRegions.forEach((path, i) => datasets.push(outlineDataset(path, centreSheet, centre[i])));
  lowerRegions.forEach((path, i) => datasets.push(outlineDataset(path, lowerSheet, lower[i])));
  southRegions.forEach((path, i) => datasets.push(outlineDataset(path, southSheet, south[i])));
  datasets.push(baseLine(northBase, northSheet), baseLine(centreBase, centreSheet),
    baseLine(lowerBase, lowerSheet), baseLine(southBase, southSheet));

  // chart.js paints the first dataset last, outlines need the opposite
  datasets.reverse();

  const canvas = document.getElementById(canvasId);
  return new Chart(canvas.getContext('2d'), {
    type: 'scatter',
    data: { datasets: datasets },
    options: {
      responsive: false,
      animation: false,
      devicePixelRatio: 1,
      layout: { padding: 0 },
      scales: {
        x: { type: 'linear', display: false, min: 0, max: 1469 },
        y: { type: 'linear', display: false, reverse: true, min: yShift, max: 1787 + yShift }
      },
      plugins: { legend: { display: false }, tooltip: { enabled: false } }
    },
    plugins: [classLegend]
  });
}

drawPanel('map-left', northLeft, centreLeft, lowerLeft, southLeft, 0);
drawPanel('map-right', northRight, centreRight, lowerRight, southRight, 3);
</script>
</body>
</html>
